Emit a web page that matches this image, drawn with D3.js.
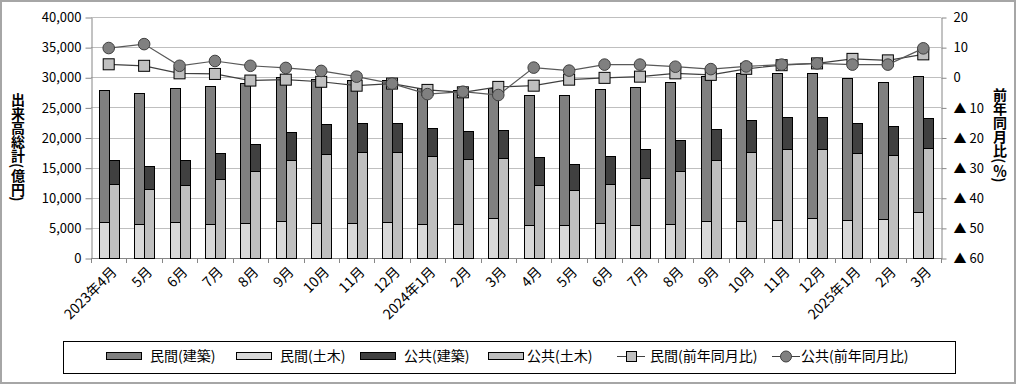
<!DOCTYPE html>
<html>
<head>
<meta charset="utf-8">
<script src="https://cdn.jsdelivr.net/npm/d3@7"></script>
<style>
body { margin:0; background:#fff; }
text { font-family:"Noto Sans CJK JP","Noto Sans",sans-serif; fill:#000; }
</style>
</head>
<body>
<div id="the_chart"></div>
<script>
// months on the x axis
var months = ["2023年4月","5月","6月","7月","8月","9月","10月","11月","12月",
              "2024年1月","2月","3月","4月","5月","6月","7月","8月","9月","10月","11月","12月",
              "2025年1月","2月","3月"];
// 億円
var minkanKenchiku = [21860,21740,22190,22900,23240,23900,24000,23730,23520,22570,22240,21570,
                      21580,21580,22240,22910,23570,24070,24560,24390,24060,23560,22740,22580];
var minkanDoboku   = [5975,5590,5975,5590,5760,6090,5760,5760,5975,5590,5590,6590,
                      5420,5420,5760,5420,5590,6090,6090,6260,6590,6260,6420,7580];
var koukyouKenchiku = [3980,3820,4100,4310,4480,4650,4980,4820,4820,4650,4650,4650,
                       4650,4310,4650,4810,5140,5150,5310,5310,5310,4990,4820,4980];
var koukyouDoboku  = [12230,11400,12115,13060,14390,16210,17210,17540,17540,16880,16380,16550,
                      12060,11240,12230,13230,14390,16210,17540,18040,18040,17370,17040,18210];
// 前年同月比 (%)
var minkanYoY  = [4.3,3.8,1.3,1.1,-1.1,-0.8,-1.5,-2.8,-2.1,-4.2,-5.0,-3.2,
                  -2.8,-0.8,-0.2,0.2,1.3,0.8,2.8,4.0,4.6,6.1,5.6,7.6];
var koukyouYoY = [9.7,11.0,3.8,5.4,3.8,3.1,2.1,0.2,-2.1,-5.6,-4.8,-5.9,
                  3.2,2.2,4.2,4.2,3.5,2.7,3.6,4.2,4.6,4.2,4.2,9.6];
var leftTicks = [0,5000,10000,15000,20000,25000,30000,35000,40000];
var rightTicks = [20,10,0,-10,-20,-30,-40,-50,-60];

var w = 1016, h = 384;
var pLeft = 91, pRight = 941, pTop = 17, pBottom = 258;

var svg = d3.select("#the_chart").append("svg")
    .attr("width", w).attr("height", h);

svg.append("rect").attr("x",1).attr("y",1).attr("width",w-2).attr("height",h-2)
    .attr("fill","#fff").attr("stroke","#a6a6a6").attr("stroke-width",2);

var xscale = d3.scaleBand().domain(months.map(function(d,i){return i;}))
    .range([pLeft,pRight]);
var sub = d3.scaleBand().domain(["m","k"]).range([0,xscale.bandwidth()])
    .paddingInner(0).paddingOuter(0.77);
var yscale = d3.scaleLinear().domain([0,40000]).range([pBottom,pTop]);
var y2scale = d3.scaleLinear().domain([-60,20]).range([pBottom,pTop]);

// grid
svg.append("g").selectAll("line").data(leftTicks.slice(1)).enter().append("line")
    .attr("x1",pLeft).attr("x2",pRight)
    .attr("y1",function(d){return Math.round(yscale(d))+0.5;})
    .attr("y2",function(d){return Math.round(yscale(d))+0.5;})
    .attr("stroke","#bfbfbf");

// left axis
var yaxis = d3.axisLeft(yscale).tickValues(leftTicks).tickFormat(d3.format(","))
    .tickSize(6).tickSizeOuter(0).tickPadding(4);
var ga = svg.append("g").attr("transform","translate("+(pLeft+0.5)+",0.5)").call(yaxis);
ga.selectAll("path,line").attr("stroke","#868686");
ga.selectAll("text").style("font-size","13px").style("font-family","'Noto Sans CJK JP'");

// right axis
var y2axis = d3.axisRight(y2scale).tickValues(rightTicks)
    .tickFormat(function(d){ return d < 0 ? "▲ " + (-d) : d; })
    .tickSize(5).tickSizeOuter(0).tickPadding(7);
var gb = svg.append("g").attr("transform","translate("+(pRight+0.5)+",0.5)").call(y2axis);
gb.selectAll("path,line").attr("stroke","#868686");
gb.selectAll("text").style("font-size","13px").style("font-family","'Noto Sans CJK JP'");

// x axis
var xaxis = svg.append("g");
xaxis.append("line").attr("x1",pLeft).attr("x2",pRight)
    .attr("y1",pBottom+0.5).attr("y2",pBottom+0.5).attr("stroke","#868686");
xaxis.selectAll(".tk").data(d3.range(months.length+1)).enter().append("line")
    .attr("x1",function(i){return Math.round(pLeft + i*xscale.step())+0.5;})
    .attr("x2",function(i){return Math.round(pLeft + i*xscale.step())+0.5;})
    .attr("y1",pBottom).attr("y2",pBottom+5).attr("stroke","#868686");
xaxis.selectAll("text").data(months).enter().append("text")
    .attr("transform",function(d,i){
        return "translate("+(xscale(i)+xscale.bandwidth()/2+2)+","+(pBottom+8)+") rotate(-45)";
    })
    .attr("text-anchor","end").attr("dy","0.7em")
    .style("font-size","14px")
    .text(function(d){return d;});

// stacked bars
var series = [
    {name:"民間(建築)", vals:minkanKenchiku, base:minkanDoboku, grp:"m", fill:"#808080"},
    {name:"民間(土木)", vals:minkanDoboku, base:null, grp:"m", fill:"#d9d9d9"},
    {name:"公共(建築)", vals:koukyouKenchiku, base:koukyouDoboku, grp:"k", fill:"#404040"},
    {name:"公共(土木)", vals:koukyouDoboku, base:null, grp:"k", fill:"#bfbfbf"}
];
series.forEach(function(s){
    svg.append("g").selectAll("rect").data(s.vals).enter().append("rect")
        .attr("x",function(d,i){return Math.round(xscale(i)+sub(s.grp))+0.5;})
        .attr("width",Math.round(sub.bandwidth()))
        .attr("y",function(d,i){
            var b = s.base ? s.base[i] : 0;
            return Math.round(yscale(b+d))+0.5;
        })
        .attr("height",function(d,i){
            var b = s.base ? s.base[i] : 0;
            return Math.round(yscale(b)) - Math.round(yscale(b+d));
        })
        .attr("fill",s.fill).attr("stroke","#000").attr("stroke-width",1);
});

// lines
var cx = function(d,i){ return xscale(i)+xscale.bandwidth()/2; };
var line = d3.line().x(cx).y(function(d){return y2scale(d);});
svg.append("path").datum(minkanYoY).attr("d",line)
    .attr("fill","none").attr("stroke","#404040").attr("stroke-width",1.2);
svg.append("g").selectAll("rect").data(minkanYoY).enter().append("rect")
    .attr("x",function(d,i){return cx(d,i)-5.5;})
    .attr("y",function(d){return y2scale(d)-5.5;})
    .attr("width",11).attr("height",11)
    .attr("fill","#c0c0c0").attr("stroke","#000");
svg.append("path").datum(koukyouYoY).attr("d",line)
    .attr("fill","none").attr("stroke","#595959").attr("stroke-width",1.2);
svg.append("g").selectAll("circle").data(koukyouYoY).enter().append("circle")
    .attr("cx",cx).attr("cy",function(d){return y2scale(d);})
    .attr("r",5.8).attr("fill","#808080").attr("stroke","#404040");

// axis titles, written vertically
function vtitle(x, y0, str){
    svg.append("text").attr("x",x).attr("y",y0)
        .style("writing-mode","vertical-rl")
        .style("font-size","14px").style("font-weight","bold")
        .text(str);
}
vtitle(18, 93, "出来高総計(億円)");
vtitle(1000, 88, "前年同月比(％)");

// legend
var lg = svg.append("g");
lg.append("rect").attr("x",63.5).attr("y",341.5).attr("width",892).attr("height",32)
    .attr("fill","#fff").attr("stroke","#000");
var lx = [106, 236, 360, 488];
series.forEach(function(s,i){
    lg.append("rect").attr("x",lx[i]+0.5).attr("y",352.5).attr("width",35).attr("height",7)
        .attr("fill",s.fill).attr("stroke","#000");
    lg.append("text").attr("x",lx[i]+(i==3?39:44)).attr("y",361)
        .style("font-size","14px").text(s.name);
});
lg.append("line").attr("x1",617).attr("x2",645).attr("y1",356.5).attr("y2",356.5).attr("stroke","#404040");
lg.append("rect").attr("x",626.5).attr("y",351.5).attr("width",10).attr("height",10)
    .attr("fill","#c0c0c0").attr("stroke","#000");
lg.append("text").attr("x",650).attr("y",361).style("font-size","14px").text("民間(前年同月比)");
lg.append("line").attr("x1",772).attr("x2",800).attr("y1",356.5).attr("y2",356.5).attr("stroke","#404040");
lg.append("circle").attr("cx",786).attr("cy",356.5).attr("r",5.5)
    .attr("fill","#808080").attr("stroke","#404040");
lg.append("text").attr("x",801).attr("y",361).style("font-size","14px").text("公共(前年同月比)");
</script>
</body>
</html>
